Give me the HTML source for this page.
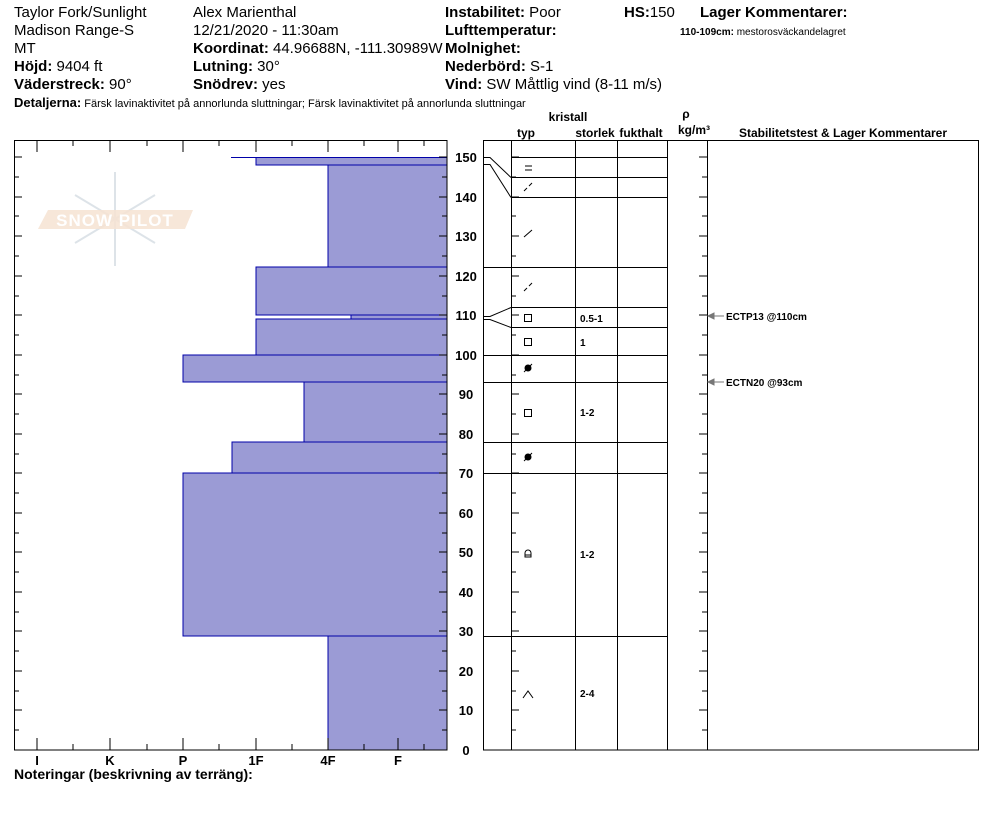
<!DOCTYPE html>
<html><head><meta charset="utf-8"><style>
body{margin:0;background:#fff;width:994px;height:840px;overflow:hidden;font-family:"Liberation Sans",sans-serif}
svg{position:absolute;left:0;top:0}
</style></head><body>
<svg width="994" height="840" font-family="Liberation Sans, sans-serif">
<g font-size="15" fill="#000">
<text x="14" y="17">Taylor Fork/Sunlight</text>
<text x="14" y="35">Madison Range-S</text>
<text x="14" y="53">MT</text>
<text x="14" y="71"><tspan font-weight="bold">Höjd:</tspan> 9404 ft</text>
<text x="14" y="89"><tspan font-weight="bold">Väderstreck:</tspan> 90°</text>
<text x="193" y="17">Alex Marienthal</text>
<text x="193" y="35">12/21/2020 - 11:30am</text>
<text x="193" y="53"><tspan font-weight="bold">Koordinat:</tspan> 44.96688N, -111.30989W</text>
<text x="193" y="71"><tspan font-weight="bold">Lutning:</tspan> 30°</text>
<text x="193" y="89"><tspan font-weight="bold">Snödrev:</tspan> yes</text>
<text x="445" y="17"><tspan font-weight="bold">Instabilitet:</tspan> Poor</text>
<text x="445" y="35" font-weight="bold">Lufttemperatur:</text>
<text x="445" y="53" font-weight="bold">Molnighet:</text>
<text x="445" y="71"><tspan font-weight="bold">Nederbörd:</tspan> S-1</text>
<text x="445" y="89"><tspan font-weight="bold">Vind:</tspan>  SW  Måttlig vind (8-11 m/s)</text>
<text x="624" y="17"><tspan font-weight="bold">HS:</tspan>150</text>
<text x="700" y="17" font-weight="bold">Lager Kommentarer:</text>
</g>
<text x="680" y="35" font-size="10"><tspan font-weight="bold">110-109cm:</tspan> mestorosväckandelagret</text>
<text x="14" y="107" font-size="11"><tspan font-size="13" font-weight="bold">Detaljerna:</tspan> Färsk lavinaktivitet på annorlunda sluttningar; Färsk lavinaktivitet på annorlunda sluttningar</text>

<!-- logo -->
<g opacity="0.6">
<g stroke="#c8d2da" stroke-width="2"><line x1="115" y1="172" x2="115" y2="266"/><line x1="75" y1="195" x2="155" y2="243"/><line x1="75" y1="243" x2="155" y2="195"/></g>
<polygon points="48,210 193,210 185,229 38,229" fill="#efd2b8" opacity="0.9"/>
<text x="115" y="226" font-size="17" fill="#fff" text-anchor="middle" font-weight="bold" letter-spacing="1">SNOW PILOT</text>
</g>

<!-- left chart bars -->
<g fill="#9b9bd5" stroke="#0000a8" stroke-width="1">
<rect x="256" y="157.5" width="191" height="7.5"/>
<rect x="328" y="165" width="119" height="102"/>
<rect x="256" y="267" width="191" height="48"/>
<rect x="351" y="315" width="96" height="4"/>
<rect x="256" y="319" width="191" height="36"/>
<rect x="183" y="355" width="264" height="27"/>
<rect x="304" y="382" width="143" height="60"/>
<rect x="232" y="442" width="215" height="31"/>
<rect x="183" y="473" width="264" height="163"/>
<rect x="328" y="636" width="119" height="114"/>
</g>
<line x1="231" y1="157.5" x2="256" y2="157.5" stroke="#0000a8"/>
<rect x="14.5" y="140.5" width="432.5" height="609.5" fill="none" stroke="#000"/>
<g stroke="#000" id="lt">
<line x1="14" y1="157" x2="22" y2="157"/><line x1="14" y1="177" x2="19" y2="177"/><line x1="14" y1="197" x2="22" y2="197"/><line x1="14" y1="216" x2="19" y2="216"/><line x1="14" y1="236" x2="22" y2="236"/><line x1="14" y1="256" x2="19" y2="256"/><line x1="14" y1="276" x2="22" y2="276"/><line x1="14" y1="296" x2="19" y2="296"/><line x1="14" y1="315" x2="22" y2="315"/><line x1="14" y1="335" x2="19" y2="335"/><line x1="14" y1="355" x2="22" y2="355"/><line x1="14" y1="375" x2="19" y2="375"/><line x1="14" y1="394" x2="22" y2="394"/><line x1="14" y1="414" x2="19" y2="414"/><line x1="14" y1="434" x2="22" y2="434"/><line x1="14" y1="454" x2="19" y2="454"/><line x1="14" y1="473" x2="22" y2="473"/><line x1="14" y1="493" x2="19" y2="493"/><line x1="14" y1="513" x2="22" y2="513"/><line x1="14" y1="533" x2="19" y2="533"/><line x1="14" y1="552" x2="22" y2="552"/><line x1="14" y1="572" x2="19" y2="572"/><line x1="14" y1="592" x2="22" y2="592"/><line x1="14" y1="612" x2="19" y2="612"/><line x1="14" y1="631" x2="22" y2="631"/><line x1="14" y1="651" x2="19" y2="651"/><line x1="14" y1="671" x2="22" y2="671"/><line x1="14" y1="691" x2="19" y2="691"/><line x1="14" y1="710" x2="22" y2="710"/><line x1="14" y1="730" x2="19" y2="730"/>
</g>
<use href="#lt" transform="translate(461,0) scale(-1,1)"/>
<g stroke="#000">
<line x1="37" y1="140" x2="37" y2="152"/><line x1="110" y1="140" x2="110" y2="152"/><line x1="183" y1="140" x2="183" y2="152"/><line x1="256" y1="140" x2="256" y2="152"/><line x1="328" y1="140" x2="328" y2="152"/><line x1="398" y1="140" x2="398" y2="152"/>
<line x1="73" y1="140" x2="73" y2="146"/><line x1="147" y1="140" x2="147" y2="146"/><line x1="219" y1="140" x2="219" y2="146"/><line x1="292" y1="140" x2="292" y2="146"/><line x1="364" y1="140" x2="364" y2="146"/><line x1="424" y1="140" x2="424" y2="146"/>
<line x1="37" y1="750" x2="37" y2="738"/><line x1="110" y1="750" x2="110" y2="738"/><line x1="183" y1="750" x2="183" y2="738"/><line x1="256" y1="750" x2="256" y2="738"/><line x1="328" y1="750" x2="328" y2="738"/><line x1="398" y1="750" x2="398" y2="738"/>
<line x1="73" y1="750" x2="73" y2="744"/><line x1="147" y1="750" x2="147" y2="744"/><line x1="219" y1="750" x2="219" y2="744"/><line x1="292" y1="750" x2="292" y2="744"/><line x1="364" y1="750" x2="364" y2="744"/><line x1="424" y1="750" x2="424" y2="744"/>
</g>
<g font-size="13" font-weight="bold" text-anchor="middle">
<text x="37" y="765">I</text><text x="110" y="765">K</text><text x="183" y="765">P</text><text x="256" y="765">1F</text><text x="328" y="765">4F</text><text x="398" y="765">F</text>
</g>
<text x="14" y="779" font-size="14" font-weight="bold">Noteringar (beskrivning av terräng):</text>

<g font-size="13" font-weight="bold" text-anchor="middle">
<text x="466" y="162">150</text><text x="466" y="202">140</text><text x="466" y="241">130</text><text x="466" y="281">120</text><text x="466" y="320">110</text><text x="466" y="360">100</text><text x="466" y="399">90</text><text x="466" y="439">80</text><text x="466" y="478">70</text><text x="466" y="518">60</text><text x="466" y="557">50</text><text x="466" y="597">40</text><text x="466" y="636">30</text><text x="466" y="676">20</text><text x="466" y="715">10</text><text x="466" y="755">0</text>
</g>

<g font-size="12" font-weight="bold" text-anchor="middle">
<text x="526" y="137">typ</text><text x="568" y="121">kristall</text><text x="595" y="137">storlek</text><text x="641" y="137">fukthalt</text>
<text x="686" y="118">ρ</text><text x="694" y="134">kg/m³</text><text x="843" y="137">Stabilitetstest &amp; Lager Kommentarer</text>
</g>
<g stroke="#000" fill="none">
<rect x="483.5" y="140.5" width="495" height="609.5" fill="#fff"/>
<line x1="511.5" y1="140" x2="511.5" y2="750"/><line x1="575.5" y1="140" x2="575.5" y2="750"/><line x1="617.5" y1="140" x2="617.5" y2="750"/><line x1="667.5" y1="140" x2="667.5" y2="750"/><line x1="707.5" y1="140" x2="707.5" y2="750"/>
<line x1="511" y1="157.5" x2="667" y2="157.5"/><line x1="511" y1="177.5" x2="667" y2="177.5"/><line x1="511" y1="197.5" x2="667" y2="197.5"/><line x1="483" y1="267.5" x2="667" y2="267.5"/><line x1="511" y1="307.5" x2="667" y2="307.5"/><line x1="511" y1="327.5" x2="667" y2="327.5"/><line x1="483" y1="355.5" x2="667" y2="355.5"/><line x1="483" y1="382.5" x2="667" y2="382.5"/><line x1="483" y1="442.5" x2="667" y2="442.5"/><line x1="483" y1="473.5" x2="667" y2="473.5"/><line x1="483" y1="636.5" x2="667" y2="636.5"/>
<polyline points="483,157.5 490,157.5 511,177.5"/><polyline points="483,164.5 490,164.5 511,197.5"/>
<polyline points="483,316.5 490,316.5 511,307.5"/><polyline points="483,319.5 490,319.5 511,327.5"/>
</g>
<use href="#lt" transform="translate(497,0)"/>
<use href="#lt" transform="translate(721,0) scale(-1,1)"/>
<g font-size="10" font-weight="bold">
<text x="580" y="322">0.5-1</text><text x="580" y="346">1</text><text x="580" y="416">1-2</text><text x="580" y="558">1-2</text><text x="580" y="697">2-4</text>
<text x="726" y="320">ECTP13 @110cm</text><text x="726" y="386">ECTN20 @93cm</text>
</g>
<g stroke="#777" fill="#777"><line x1="712" y1="316" x2="724" y2="316"/><polygon points="708,316 714,313 714,319"/><line x1="712" y1="382" x2="724" y2="382"/><polygon points="708,382 714,379 714,385"/></g>
<g stroke="#000" fill="none">
<line x1="525" y1="166" x2="532" y2="166"/><line x1="525" y1="170" x2="532" y2="170"/>
<line x1="524" y1="191" x2="527" y2="188"/><line x1="529" y1="186" x2="532" y2="183"/>
<line x1="524" y1="237" x2="532" y2="230"/>
<line x1="524" y1="291" x2="527" y2="288"/><line x1="529" y1="286" x2="532" y2="283"/>
<rect x="524.5" y="314.5" width="7" height="7"/><rect x="524.5" y="338.5" width="7" height="7"/><rect x="524.5" y="409.5" width="7" height="7"/>
<path d="M525,557 v-4 a3,3 0 0 1 6,0 v4 z M525,555 h6"/>
<polyline points="523,698 528,691 533,698"/>
</g>
<g fill="#000"><circle cx="528" cy="368" r="3.5"/><circle cx="528" cy="457" r="3.5"/></g>
<line x1="524" y1="372" x2="532" y2="364" stroke="#000"/><line x1="524" y1="461" x2="532" y2="453" stroke="#000"/>
</svg>
</body></html>
